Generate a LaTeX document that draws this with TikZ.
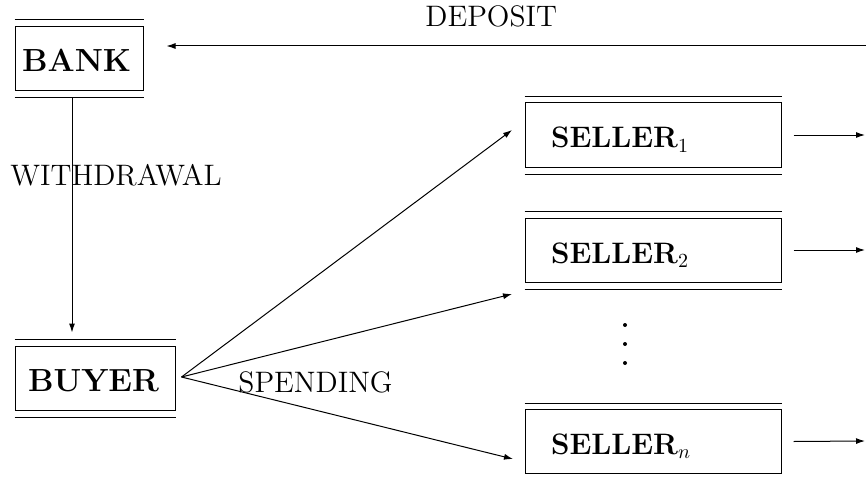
\documentclass[tikz,border=0pt]{standalone}
\usetikzlibrary{arrows.meta}
\begin{document}
\begin{tikzpicture}[x=0.5pt,y=-0.5pt,
  box/.style={draw, line width=0.5pt, minimum height=32pt, inner ysep=0pt, align=left,
              text height=16pt, text depth=3pt, font=\fontsize{16}{19}\selectfont\bfseries},
  sbox/.style={box, text width=102pt, inner xsep=13pt, font=\fontsize{14.8}{18}\selectfont\bfseries},
  lab/.style={anchor=base west, inner sep=0pt, font=\fontsize{14.8}{18}\selectfont},
  arr/.style={-{Latex[length=4.5pt,width=3pt]}, line width=0.5pt},
  rule/.style={line width=0.5pt},
  dotn/.style={circle, fill, inner sep=0pt, minimum size=2pt}]
\useasboundingbox (0,0) rectangle (866,481);

% boxes
\node[box, text width=57pt, inner xsep=3.5pt] (bank) at (79,58.5) {BANK};
\node[box, text width=67pt, inner xsep=6.5pt] (buyer) at (95,378) {BUYER};
\node[sbox] (seller1) at (653,135) {SELLER$_1$};
\node[sbox] (seller2) at (653,250) {SELLER$_2$};
\node[sbox] (sellern) at (653,441.5) {SELLER$_n$};

% double rules above and below boxes
\foreach \b in {bank,buyer,seller1,seller2,sellern}{
  \draw[rule] ([yshift=3pt]\b.north west) -- ([yshift=3pt]\b.north east);
  \draw[rule] ([yshift=-3.5pt]\b.south west) -- ([yshift=-3.5pt]\b.south east);
}

% dots
\node[dotn] (d1) at (625,325) {};
\node[dotn] (d2) at (625,344) {};
\node[dotn] (d3) at (625,363) {};

% labels
\node[lab] (lw) at (10,185) {WITHDRAWAL};
\node[lab] (ld) at (425,27) {DEPOSIT};
\node[lab] (ls) at (238,392) {SPENDING};

% withdrawal
\coordinate (wstart) at ([xshift=-3.5pt,yshift=-3.5pt]bank.south);
\coordinate (wend) at ([yshift=6.5pt]buyer.north);
\draw[arr] (wstart) -- (wstart |- wend);

% deposit
\coordinate (depstart) at (866,46);
\coordinate (deptip) at ([xshift=11.5pt]bank.east);
\draw[arr] (depstart) -- (deptip |- depstart);

% spending
\coordinate (apex) at ([xshift=3pt,yshift=0.5pt]buyer.east);
\coordinate (s1in) at (512,130);
\coordinate (s2in) at (512,294);
\coordinate (snin) at (513,459);
\draw[arr] (apex) -- (s1in);
\draw[arr] (apex) -- (s2in);
\draw[arr] (apex) -- (snin);

% outgoing
\coordinate (o1) at (865,135);
\coordinate (o2) at (865,250);
\coordinate (on) at (865,441);
\draw[arr] ([xshift=6pt]seller1.east) -- (o1);
\draw[arr] ([xshift=6pt]seller2.east) -- (o2);
\draw[arr] ([xshift=6pt]sellern.east) -- (on);
\end{tikzpicture}
\end{document}
